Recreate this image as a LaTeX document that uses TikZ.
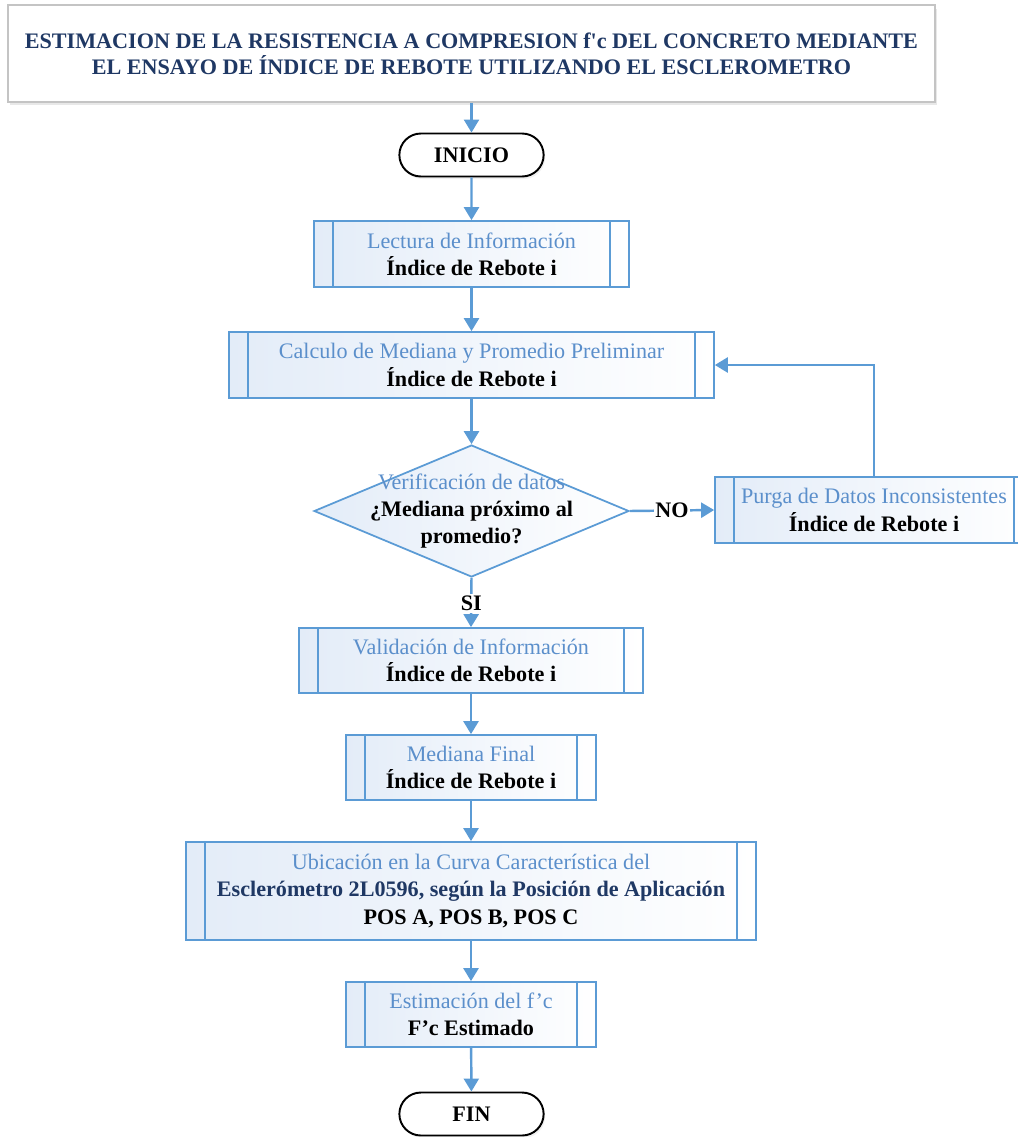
\documentclass[tikz,border=0pt]{standalone}
\usepackage{fontspec}
\setmainfont{Liberation Serif}
\usetikzlibrary{
    positioning,
    arrows.meta,
    shapes.geometric,
    shapes.misc,
    calc,
    shadows,
}
\definecolor{flowblue}{HTML}{5B9BD5}
\definecolor{headblue}{HTML}{5B8FCB}
\definecolor{titlenavy}{HTML}{1F3864}
\definecolor{boxtint}{HTML}{E3ECF8}
\definecolor{framegray}{HTML}{C4C4C4}
\tikzset{
    % Basic node styles
    title box/.style={rectangle, draw=framegray, line width=1pt, fill=white,
                      drop shadow={shadow xshift=0.4mm, shadow yshift=-0.7mm, opacity=0.18},
                      minimum width=18.54cm, minimum height=1.94cm, align=center,
                      font=\fontsize{12.6}{15}\selectfont\bfseries, text=titlenavy},
    terminal/.style={rounded rectangle, draw=black, line width=1.1pt, fill=white,
                     drop shadow={shadow xshift=0.3mm, shadow yshift=-0.5mm, opacity=0.12},
                     minimum width=3.12cm, minimum height=0.86cm,
                     font=\fontsize{12.6}{15}\selectfont\bfseries},
    % Block styles
    process/.style={rectangle, draw=flowblue, line width=1pt, left color=boxtint, right color=white,
                    align=center, inner sep=0pt, font=\fontsize{12.6}{15.5}\selectfont,
                    path picture={
                        \draw[flowblue, line width=1pt]
                            ([xshift=0.38cm]path picture bounding box.north west) --
                            ([xshift=0.38cm]path picture bounding box.south west)
                            ([xshift=-0.38cm]path picture bounding box.north east) --
                            ([xshift=-0.38cm]path picture bounding box.south east);
                    }},
    decision/.style={diamond, draw=flowblue, line width=1pt, left color=boxtint, right color=white,
                     minimum width=6.3cm, minimum height=2.64cm, inner sep=0pt},
    % Arrow styles
    arrow/.style={-{Triangle[length=2.6mm, width=3mm]}, flowblue, line width=1.4pt},
    % Annotation styles
    answer/.style={font=\fontsize{12.6}{14}\selectfont\bfseries, text=black, fill=white, inner sep=1pt},
}

\begin{document}
\begin{tikzpicture}[x=0.02cm, y=-0.02cm]
    \useasboundingbox (0,0) rectangle (1018,1137);

    % Title
    \node[title box] (title) at (471.5, 53.5)
        {ESTIMACION DE LA RESISTENCIA A COMPRESION f\textquotesingle c DEL CONCRETO MEDIANTE\\
         EL ENSAYO DE ÍNDICE DE REBOTE UTILIZANDO EL ESCLEROMETRO};

    % Start
    \node[terminal] (inicio) at (471.5, 155) {INICIO};

    % Reading and preliminary statistics
    \node[process, minimum width=6.3cm, minimum height=1.32cm] (lectura) at (471.5, 254)
        {\textcolor{headblue}{Lectura de Información}\\\textbf{Índice de Rebote i}};
    \node[process, minimum width=9.7cm, minimum height=1.32cm] (calculo) at (471.5, 365)
        {\textcolor{headblue}{Calculo de Mediana y Promedio Preliminar}\\\textbf{Índice de Rebote i}};

    % Check
    \node[decision] (verif) at (471.5, 511) {};
    \node[align=center, font=\fontsize{12.6}{15.5}\selectfont] (veriftext) at (verif.center)
        {\textcolor{headblue}{Verificación de datos}\\\textbf{¿Mediana próximo al}\\\textbf{promedio?}};
    \node[process, minimum width=6.36cm, minimum height=1.32cm] (purga) at (874, 510)
        {\textcolor{headblue}{Purga de Datos Inconsistentes}\\\textbf{Índice de Rebote i}};

    % Validated data
    \node[process, minimum width=6.88cm, minimum height=1.3cm] (valida) at (471, 660.5)
        {\textcolor{headblue}{Validación de Información}\\\textbf{Índice de Rebote i}};
    \node[process, minimum width=5cm, minimum height=1.3cm] (mediana) at (471, 767.5)
        {\textcolor{headblue}{Mediana Final}\\\textbf{Índice de Rebote i}};
    \node[process, minimum width=11.4cm, minimum height=1.96cm] (curva) at (471, 891)
        {\textcolor{headblue}{Ubicación en la Curva Característica del}\\
         \textcolor{titlenavy}{\textbf{Esclerómetro 2L0596, según la Posición de Aplicación}}\\
         \textbf{POS A, POS B, POS C}};
    \node[process, minimum width=5cm, minimum height=1.3cm] (estima) at (471, 1014.5)
        {\textcolor{headblue}{Estimación del f'c}\\\textbf{F'c Estimado}};

    % End
    \node[terminal] (fin) at (471.5, 1114) {FIN};

    % Connectors
    \draw[arrow] (title.south -| inicio.north) -- (inicio.north);
    \draw[arrow] (inicio) -- (lectura);
    \draw[arrow] (lectura) -- (calculo);
    \draw[arrow] (calculo) -- (verif.north);
    \draw[arrow] (verif.east) -- node[answer, pos=0.5] {NO} (purga.west);
    \draw[arrow] (purga.north) |- (calculo.east);
    \draw[arrow] (verif.south) -- node[answer, pos=0.52] {SI} (valida.north);
    \draw[arrow] (valida) -- (mediana);
    \draw[arrow] (mediana) -- (curva);
    \draw[arrow] (curva) -- (estima);
    \draw[arrow] (estima) -- (fin);
\end{tikzpicture}
\end{document}
